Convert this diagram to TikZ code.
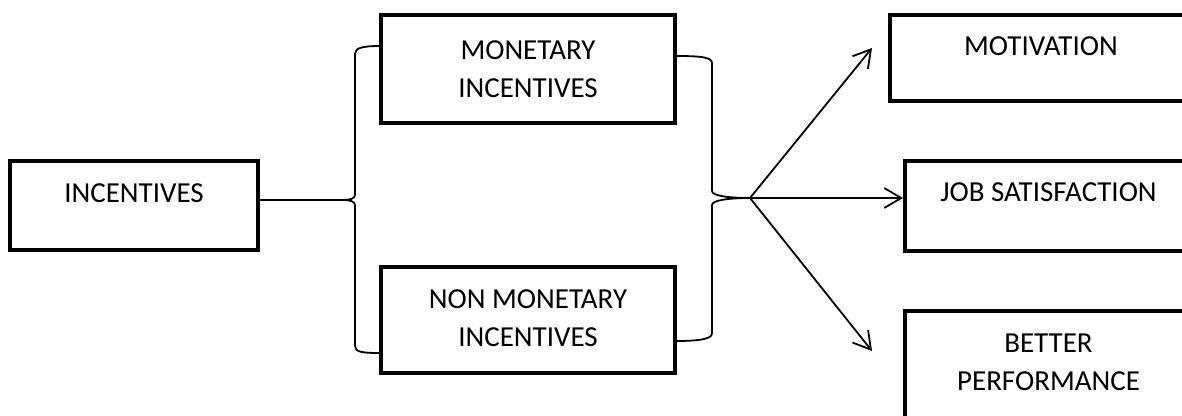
\documentclass[tikz,border=0pt]{standalone}
\usepackage{fontspec}
\setmainfont{Carlito}
\usetikzlibrary{arrows.meta}
\begin{document}
\begin{tikzpicture}[x=1pt,y=-1pt,
		box/.style={draw, line width=4pt, inner sep=0pt},
		txt/.style={font=\fontsize{29}{38}\selectfont, align=center, inner sep=0pt},
		brc/.style={line width=1.8pt},
		arr/.style={line width=1.8pt, -{Straight Barb[length=17pt,width=20pt]}}]
	\useasboundingbox (0,0) rectangle (1182,415);
	\clip (0,0) rectangle (1182,415);
	\node[box, minimum width=248pt, minimum height=89pt, label={[txt,yshift=12pt]center:INCENTIVES}] (inc) at (134,205.5) {};
	\node[box, minimum width=294pt, minimum height=108pt, label={[txt]center:{MONETARY\\INCENTIVES}}] (mon) at (528,69) {};
	\node[box, minimum width=294pt, minimum height=106pt, label={[txt,yshift=1.5pt]center:{NON MONETARY\\INCENTIVES}}] (non) at (528,320) {};
	\node[box, minimum width=302pt, minimum height=86pt, label={[txt,yshift=12pt]center:MOTIVATION}] (mot) at (1041,58) {};
	\node[box, minimum width=287pt, minimum height=90pt, label={[txt,yshift=13.5pt]center:JOB SATISFACTION}] (job) at (1048.5,206) {};
	\node[box, minimum width=287pt, minimum height=114pt, label={[txt,yshift=5.5pt]center:{BETTER\\PERFORMANCE}}] (bet) at (1048.5,368) {};
	\coordinate (ltip) at (343,200);
	\coordinate (rtip) at (750,198);
	\coordinate (mtip) at (872,48);
	\coordinate (btip) at (872,351);
	\draw[brc] (ltip -| inc.east) -- (ltip);
	\draw[brc] (380,46) .. controls (362,46) and (355,48) .. (355,54) -- (355,195) .. controls (355,198.5) and (350,200) .. (ltip) .. controls (350,200) and (355,201.5) .. (355,205) -- (355,346) .. controls (355,352) and (362,353) .. (380,353);
	\draw[brc] (675,56) .. controls (700,56) and (712,57) .. (712,63) -- (712,191) .. controls (712,196) and (730,198) .. (rtip) .. controls (730,198) and (712,200) .. (712,205) -- (712,333) .. controls (712,339) and (700,341) .. (675,341);
	\draw[arr] (rtip) -- (mtip);
	\draw[arr] (rtip) -- (rtip -| job.west);
	\draw[arr] (rtip) -- (btip);
\end{tikzpicture}
\end{document}
